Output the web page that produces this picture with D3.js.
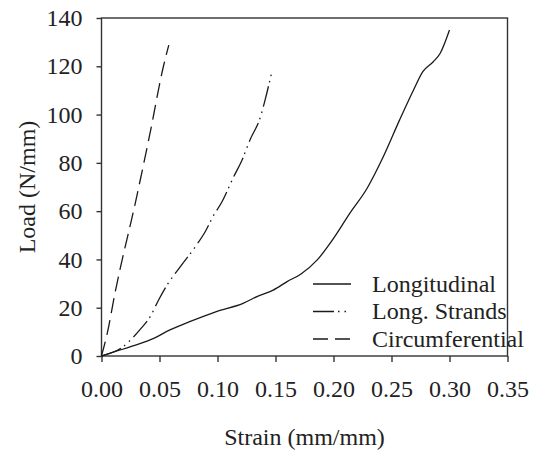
<!DOCTYPE html>
<html>
<head>
<meta charset="utf-8">
<script src="https://cdn.jsdelivr.net/npm/d3@7"></script>
<style>
    body { margin: 0; background: #fff; }
    svg text { font-family: "Liberation Serif", "Times New Roman", serif; fill: #222; }
    .axis path, .axis line { stroke: #333; stroke-width: 1.4; }
    .axis text { font-size: 24px; }
    .axisLabel { font-size: 24px; }
    .legendText { font-size: 24px; }
    .curve { fill: none; stroke: #1a1a1a; stroke-width: 1.3; }
</style>
</head>
<body>
<div id="graph"></div>
<script>
//
// Data (strain in mm/mm, load in N/mm)
//
var longStrain = [0, 0.016, 0.030, 0.045, 0.059, 0.076, 0.099, 0.122, 0.134, 0.148, 0.160, 0.172,
                  0.186, 0.200, 0.214, 0.229, 0.243, 0.257, 0.269, 0.277, 0.286, 0.292, 0.300];
var longLoad   = [0, 2.5, 4.6, 7.3, 10.8, 14.2, 18.4, 21.8, 24.6, 27.3, 30.8, 34.0,
                  39.8, 48.7, 59.1, 69.5, 82.6, 97.8, 110.2, 117.8, 121.9, 125.4, 135.0];

var strandStrain = [0, 0.019, 0.025, 0.033, 0.042, 0.049, 0.056, 0.068, 0.082, 0.090, 0.096,
                    0.104, 0.114, 0.121, 0.128, 0.137, 0.141, 0.147];
var strandLoad   = [0, 4.0, 6.6, 10.8, 16.3, 23.0, 29.0, 37.0, 46.0, 52.0, 57.7,
                    64.0, 74.3, 81.0, 89.5, 99.0, 106.0, 118.0];

var circStrain = [0, 0.005, 0.0116, 0.0297, 0.0418, 0.0533, 0.058];
var circLoad   = [0, 9.5, 26.0, 64.6, 92.2, 119.8, 128.8];

var xTicks = [0, 0.05, 0.10, 0.15, 0.20, 0.25, 0.30, 0.35];
var yTicks = [0, 20, 40, 60, 80, 100, 120, 140];

var seriesNames  = ['Longitudinal', 'Long. Strands', 'Circumferential'];
var seriesDashes = [null, '21,4,1.5,5,1.5,5', '15,7'];

function D3SVGApp ()
{
    var margin = { top: 18, right: 28.5, bottom: 97, left: 101.5 };
    var width  = 536 - margin.left - margin.right;
    var height = 453 - margin.top  - margin.bottom;

    var xScale = d3.scaleLinear ()
                   .domain ([0, 0.35])
                   .range ([0, width]);

    var yScale = d3.scaleLinear ()
                   .domain ([0, 140])
                   .range ([height, 0]);

    var line = d3.line ()
                 .x (function (d) { return xScale (d.x); })
                 .y (function (d) { return yScale (d.y); })
                 .curve (d3.curveMonotoneX);

    var pairs = function (xs, ys)
    {
        return xs.map (function (v, i) { return { x: v, y: ys[i] }; });
    };

    var series = [ pairs (longStrain, longLoad),
                   pairs (strandStrain, strandLoad),
                   pairs (circStrain, circLoad) ];

    var svg = d3.select ('div#graph')
                .append ('svg')
                .attr ('width', 536)
                .attr ('height', 453)
                .append ('g')
                .attr ('transform', 'translate(' + margin.left + ',' + margin.top + ')');

    // box round the plot area
    svg.append ('rect')
       .attr ('width', width)
       .attr ('height', height)
       .attr ('fill', 'none')
       .attr ('stroke', '#333')
       .attr ('stroke-width', 1.4);

    var xAxis = d3.axisBottom (xScale)
                  .tickValues (xTicks)
                  .tickSize (6)
                  .tickSizeOuter (0)
                  .tickPadding (18)
                  .tickFormat (d3.format ('.2f'));

    var yAxis = d3.axisLeft (yScale)
                  .tickValues (yTicks)
                  .tickSize (5)
                  .tickSizeOuter (0)
                  .tickPadding (14)
                  .tickFormat (d3.format ('d'));

    svg.append ('g')
       .attr ('class', 'x axis')
       .attr ('transform', 'translate(0,' + height + ')')
       .call (xAxis);

    svg.append ('g')
       .attr ('class', 'y axis')
       .call (yAxis);

    svg.selectAll ('.axis .domain').remove ();

    for (var i = 0; i < series.length; i++)
    {
        svg.append ('path')
           .datum (series[i])
           .attr ('class', 'curve')
           .attr ('stroke-dasharray', seriesDashes[i])
           .attr ('d', line);
    }

    //
    // Axis labels...
    //
    svg.append ('text')
       .style ('text-anchor', 'middle')
       .attr ('transform', 'rotate(-90)')
       .attr ('x', -height * 0.5)
       .attr ('y', 35 - margin.left)
       .attr ('class', 'axisLabel')
       .text ('Load (N/mm)');

    svg.append ('text')
       .style ('text-anchor', 'middle')
       .attr ('x', width * 0.5)
       .attr ('y', 445 - margin.top)
       .attr ('class', 'axisLabel')
       .text ('Strain (mm/mm)');

    // legend
    var legendX   = 313 - margin.left;
    var legendY   = 284 - margin.top;
    var legendGap = 27.5;

    for (var j = 0; j < seriesNames.length; j++)
    {
        var ly = legendY + j * legendGap;

        svg.append ('line')
           .attr ('class', 'curve')
           .attr ('x1', legendX)
           .attr ('x2', legendX + 38)
           .attr ('y1', ly)
           .attr ('y2', ly)
           .attr ('stroke-dasharray', seriesDashes[j]);

        svg.append ('text')
           .attr ('class', 'legendText')
           .attr ('x', legendX + 59)
           .attr ('y', ly + 7.5)
           .text (seriesNames[j]);
    }
}

D3SVGApp ();
</script>
</body>
</html>
